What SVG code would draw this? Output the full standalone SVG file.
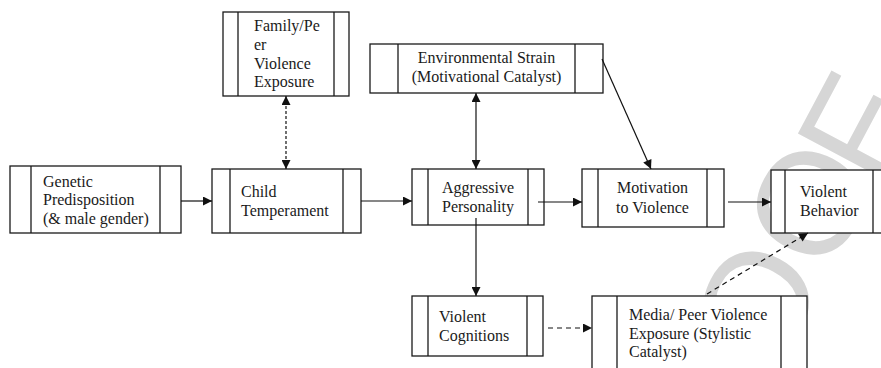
<svg xmlns="http://www.w3.org/2000/svg" width="881" height="368" viewBox="0 0 881 368">
<style>
.bx{fill:#fff;stroke:#1a1a1a;stroke-width:1.3}
.dv{stroke:#1a1a1a;stroke-width:1.3}
.t{font-family:"Liberation Serif","Times New Roman",serif;font-size:16px;fill:#1a1a1a}
.c{text-anchor:middle}
.ln{fill:none;stroke:#111;stroke-width:1.2}
.ds{stroke-dasharray:5,4}
.dt{stroke-dasharray:3,2}
.wm{font-family:"Liberation Sans",Arial,sans-serif;font-size:146px;fill:#d6d6d6}
</style>
<defs>
<marker id="ah" viewBox="0 0 10 10" refX="10" refY="5" markerWidth="11" markerHeight="9" markerUnits="userSpaceOnUse" orient="auto-start-reverse">
<path d="M0,0 L10,5 L0,10 z" fill="#111"/>
</marker>
</defs>
<rect width="881" height="368" fill="#fff"/>
<g id="watermark">
<text class="wm" transform="translate(679,556) rotate(-62)">PROO<tspan dx="-13" dy="7">F</tspan></text>
</g>
<g id="genetic">
<rect class="bx" x="10" y="166" width="171" height="67"/>
<line class="dv" x1="31" y1="166" x2="31" y2="233"/>
<line class="dv" x1="160" y1="166" x2="160" y2="233"/>
<text class="t" x="43" y="187">Genetic</text>
<text class="t" x="43" y="205">Predisposition</text>
<text class="t" x="43" y="223.5">(&amp; male gender)</text>
</g>
<g id="child">
<rect class="bx" x="212" y="169" width="149" height="64"/>
<line class="dv" x1="230" y1="169" x2="230" y2="233"/>
<line class="dv" x1="343" y1="169" x2="343" y2="233"/>
<text class="t" x="241" y="197">Child</text>
<text class="t" x="241" y="216">Temperament</text>
</g>
<g id="family">
<rect class="bx" x="223" y="12" width="126" height="84"/>
<line class="dv" x1="238" y1="12" x2="238" y2="96"/>
<line class="dv" x1="334" y1="12" x2="334" y2="96"/>
<text class="t" x="254" y="31">Family/Pe</text>
<text class="t" x="254" y="49.5">er</text>
<text class="t" x="254" y="68.5">Violence</text>
<text class="t" x="254" y="87">Exposure</text>
</g>
<g id="environmental">
<rect class="bx" x="370" y="44" width="233" height="49"/>
<line class="dv" x1="398" y1="44" x2="398" y2="93"/>
<line class="dv" x1="575" y1="44" x2="575" y2="93"/>
<text class="t c" x="486.5" y="63">Environmental Strain</text>
<text class="t c" x="486.5" y="82">(Motivational Catalyst)</text>
</g>
<g id="aggressive">
<rect class="bx" x="412" y="169" width="132" height="56"/>
<line class="dv" x1="428" y1="169" x2="428" y2="225"/>
<line class="dv" x1="528" y1="169" x2="528" y2="225"/>
<text class="t c" x="478" y="193">Aggressive</text>
<text class="t c" x="478" y="212">Personality</text>
</g>
<g id="motivation">
<rect class="bx" x="582" y="169" width="142" height="58"/>
<line class="dv" x1="598" y1="169" x2="598" y2="227"/>
<line class="dv" x1="707" y1="169" x2="707" y2="227"/>
<text class="t c" x="652.5" y="193">Motivation</text>
<text class="t c" x="652.5" y="212.5">to Violence</text>
</g>
<g id="violent-behavior">
<rect class="bx" x="771" y="170" width="120" height="63"/>
<line class="dv" x1="785" y1="170" x2="785" y2="233"/>
<line class="dv" x1="873" y1="170" x2="873" y2="233"/>
<text class="t" x="800" y="197">Violent</text>
<text class="t" x="800" y="215.5">Behavior</text>
</g>
<g id="violent-cognitions">
<rect class="bx" x="412" y="296" width="131" height="60"/>
<line class="dv" x1="428" y1="296" x2="428" y2="356"/>
<line class="dv" x1="527" y1="296" x2="527" y2="356"/>
<text class="t" x="439" y="322">Violent</text>
<text class="t" x="439" y="341">Cognitions</text>
</g>
<g id="media">
<rect class="bx" x="592" y="296" width="215" height="90"/>
<line class="dv" x1="617" y1="296" x2="617" y2="386"/>
<line class="dv" x1="781" y1="296" x2="781" y2="386"/>
<text class="t" x="629" y="320">Media/ Peer Violence</text>
<text class="t" x="629" y="339">Exposure (Stylistic</text>
<text class="t" x="629" y="357">Catalyst)</text>
</g>
<g id="connectors">
<path class="ln" d="M181,201 L212,201" marker-end="url(#ah)"/>
<path class="ln" d="M361,201 L412,201" marker-end="url(#ah)"/>
<path class="ln" d="M538,202 L582,202" marker-end="url(#ah)"/>
<path class="ln" d="M728,202 L771,202" marker-end="url(#ah)"/>
<path class="ln" d="M476,218 L476,296" marker-end="url(#ah)"/>
<path class="ln" d="M476,93 L476,169" marker-start="url(#ah)" marker-end="url(#ah)"/>
<path class="ln" d="M602,59 L651,169" marker-end="url(#ah)"/>
<path class="ln dt" d="M286,96 L286,169" marker-start="url(#ah)" marker-end="url(#ah)"/>
<path class="ln ds" d="M548,328 L592,328" marker-end="url(#ah)"/>
<path class="ln ds" d="M707,294 L808,233" marker-end="url(#ah)"/>
</g>
</svg>
